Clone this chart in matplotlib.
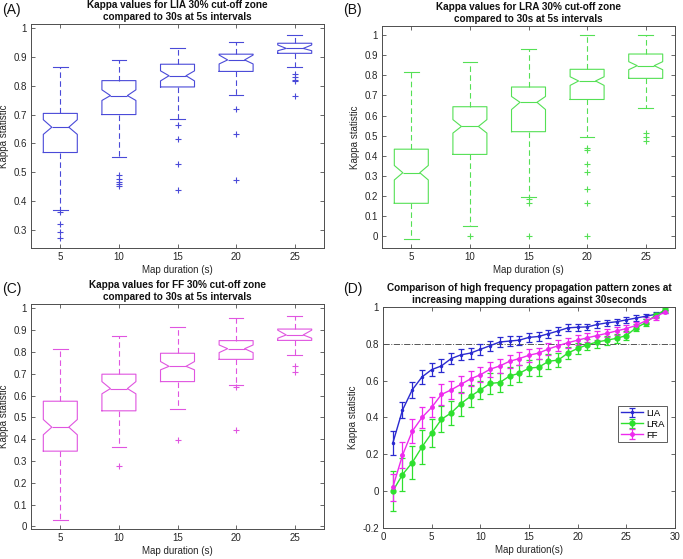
import matplotlib
matplotlib.use("Agg")
import matplotlib.pyplot as plt
import numpy as np

plt.rcParams['font.family'] = ['Liberation Sans', 'DejaVu Sans']

# etiquetas comunes
durations = [5, 10, 15, 20, 25]

# (A) LIA - estadisticos de cada caja
lia_hi = [0.867, 0.890, 0.933, 0.951, 0.977]
lia_q3 = [0.704, 0.818, 0.875, 0.910, 0.948]
lia_med = [0.656, 0.766, 0.835, 0.890, 0.930]
lia_q1 = [0.568, 0.700, 0.796, 0.850, 0.913]
lia_lo = [0.367, 0.552, 0.685, 0.767, 0.867]
lia_nhi = [0.682, 0.786, 0.852, 0.907, 0.942]
lia_nlo = [0.631, 0.749, 0.817, 0.876, 0.922]
lia_out = [[0.362, 0.321, 0.293, 0.270],
           [0.490, 0.477, 0.464, 0.460, 0.452],
           [0.663, 0.616, 0.528, 0.439],
           [0.721, 0.633, 0.471],
           [0.842, 0.830, 0.820, 0.815, 0.763]]

# (B) LRA
lra_hi = [0.818, 0.868, 0.932, 1.000, 1.000]
lra_q3 = [0.433, 0.644, 0.742, 0.830, 0.906]
lra_med = [0.316, 0.546, 0.666, 0.772, 0.848]
lra_q1 = [0.164, 0.407, 0.520, 0.680, 0.785]
lra_lo = [-0.012, 0.053, 0.197, 0.493, 0.636]
lra_nhi = [0.352, 0.580, 0.695, 0.793, 0.868]
lra_nlo = [0.280, 0.513, 0.630, 0.750, 0.828]
lra_out = [[],
           [0.0],
           [0.184, 0.166, 0.0],
           [0.438, 0.427, 0.358, 0.321, 0.237, 0.168, 0.0],
           [0.515, 0.496, 0.476]]

# (C) FF
ff_hi = [0.813, 0.875, 0.913, 0.957, 0.965]
ff_q3 = [0.574, 0.698, 0.794, 0.852, 0.905]
ff_med = [0.455, 0.632, 0.734, 0.815, 0.878]
ff_q1 = [0.345, 0.530, 0.664, 0.766, 0.853]
ff_lo = [0.031, 0.365, 0.539, 0.649, 0.786]
ff_nhi = [0.490, 0.664, 0.756, 0.832, 0.900]
ff_nlo = [0.420, 0.608, 0.718, 0.797, 0.863]
ff_out = [[], [0.278], [0.394], [0.638, 0.444], [0.737, 0.710]]

# (D) curvas con barras de error
t = list(range(1, 30))
lia_mean = [0.26, 0.44, 0.55, 0.62, 0.66, 0.68, 0.72, 0.74, 0.75, 0.77,
            0.79, 0.81, 0.815, 0.82, 0.835, 0.84, 0.855, 0.87, 0.887, 0.89,
            0.892, 0.905, 0.914, 0.92, 0.93, 0.94, 0.95, 0.96, 0.975]
lia_err = [0.065, 0.045, 0.045, 0.04, 0.037, 0.035, 0.032, 0.03, 0.03, 0.028,
           0.028, 0.025, 0.025, 0.025, 0.023, 0.022, 0.022, 0.02, 0.018, 0.018,
           0.017, 0.017, 0.016, 0.016, 0.015, 0.015, 0.014, 0.012, 0.01]
lra_mean = [0.0, 0.09, 0.155, 0.24, 0.315, 0.39, 0.425, 0.475, 0.515, 0.55,
            0.585, 0.59, 0.625, 0.64, 0.668, 0.673, 0.705, 0.712, 0.75, 0.775,
            0.795, 0.81, 0.82, 0.83, 0.845, 0.887, 0.915, 0.955, 0.985]
lra_err = [0.11, 0.09, 0.09, 0.09, 0.075, 0.07, 0.065, 0.065, 0.06, 0.05,
           0.055, 0.05, 0.05, 0.045, 0.045, 0.045, 0.04, 0.04, 0.035, 0.03,
           0.03, 0.03, 0.025, 0.025, 0.025, 0.02, 0.02, 0.015, 0.01]
ff_mean = [0.02, 0.195, 0.325, 0.40, 0.455, 0.525, 0.55, 0.58, 0.61, 0.632,
           0.662, 0.68, 0.705, 0.72, 0.738, 0.75, 0.772, 0.79, 0.806, 0.82,
           0.833, 0.845, 0.857, 0.87, 0.883, 0.90, 0.925, 0.945, 0.975]
ff_err = [0.075, 0.07, 0.065, 0.055, 0.055, 0.055, 0.05, 0.045, 0.04, 0.04,
          0.04, 0.04, 0.035, 0.035, 0.035, 0.03, 0.03, 0.03, 0.028, 0.027,
          0.025, 0.025, 0.022, 0.02, 0.02, 0.02, 0.018, 0.015, 0.01]

AX_COL = '#4d4d4d'
TXT_COL = '#262626'
TICK_FS = 7
LAB_FS = 7
TIT_FS = 7.2


def estilo(ax):
    for s in ax.spines.values():
        s.set_color(AX_COL)
        s.set_linewidth(0.7)
    ax.tick_params(direction='in', top=True, right=True, length=3,
                   width=0.6, color=AX_COL, labelcolor=TXT_COL,
                   labelsize=TICK_FS, pad=3)


def cajas(ax, hi, q3, med, q1, lo, nhi, nlo, outs, color, titulo, ylim, yticks):
    stats = []
    for i in range(len(med)):
        stats.append(dict(med=med[i], q1=q1[i], q3=q3[i], whislo=lo[i],
                          whishi=hi[i], cilo=nlo[i], cihi=nhi[i],
                          fliers=outs[i]))
    pos = np.arange(1, len(med) + 1)
    ax.bxp(stats, positions=pos, widths=0.58, capwidths=0.25, shownotches=True,
           boxprops=dict(color=color, linewidth=0.8),
           medianprops=dict(color=color, linewidth=0.8),
           whiskerprops=dict(color=color, linewidth=0.8, linestyle=(0, (5, 3))),
           capprops=dict(color=color, linewidth=0.8),
           flierprops=dict(marker='+', markeredgecolor=color, markersize=5,
                           markeredgewidth=0.8, linestyle='none'))
    ax.set_xlim(0.5, len(med) + 0.5)
    ax.set_xticks(pos)
    ax.set_xticklabels([str(d) for d in durations])
    ax.set_ylim(*ylim)
    ax.set_yticks(yticks)
    ax.set_yticklabels(['%g' % v for v in yticks])
    ax.set_title(titulo, fontsize=TIT_FS, fontweight='bold', color='#111111',
                 pad=3, linespacing=1.2)
    ax.set_xlabel('Map duration (s)', fontsize=LAB_FS, color=TXT_COL, labelpad=2)
    ax.set_ylabel('Kappa statistic', fontsize=LAB_FS, color=TXT_COL, labelpad=3)
    estilo(ax)


fig = plt.figure(figsize=(6.83, 5.59), dpi=100)

axA = fig.add_axes([0.0454, 0.5564, 0.429, 0.4007])
cajas(axA, lia_hi, lia_q3, lia_med, lia_q1, lia_lo, lia_nhi, lia_nlo, lia_out,
      '#4a4ad8', 'Kappa values for LIA 30% cut-off zone\ncompared to 30s at 5s intervals',
      (0.236, 1.015), np.round(np.arange(0.3, 1.01, 0.1), 1))

axB = fig.add_axes([0.5593, 0.5564, 0.429, 0.397])
cajas(axB, lra_hi, lra_q3, lra_med, lra_q1, lra_lo, lra_nhi, lra_nlo, lra_out,
      '#55e055', 'Kappa values for LRA 30% cut-off zone\ncompared to 30s at 5s intervals',
      (-0.058, 1.045), np.round(np.arange(0, 1.01, 0.1), 1))

axC = fig.add_axes([0.0454, 0.0537, 0.429, 0.4025])
cajas(axC, ff_hi, ff_q3, ff_med, ff_q1, ff_lo, ff_nhi, ff_nlo, ff_out,
      '#e055e0', 'Kappa values for FF 30% cut-off zone\ncompared to 30s at 5s intervals',
      (-0.012, 1.02), np.round(np.arange(0, 1.01, 0.1), 1))

# Panel D
axD = fig.add_axes([0.5608, 0.0555, 0.4275, 0.3953])
axD.axhline(0.8, color='#555555', linewidth=0.7, linestyle='-.')
axD.errorbar(t, lia_mean, yerr=lia_err, color='#2a2ad0', linewidth=1.0,
             capsize=2.5, elinewidth=0.9, capthick=0.9, marker='.',
             markersize=3, label='LIA')
axD.errorbar(t, lra_mean, yerr=lra_err, color='#2ee02e', linewidth=1.0,
             capsize=2.5, elinewidth=0.9, capthick=0.9, marker='.',
             markersize=7, label='LRA')
axD.errorbar(t, ff_mean, yerr=ff_err, color='#ee2aee', linewidth=1.0,
             capsize=2.5, elinewidth=0.9, capthick=0.9, marker='.',
             markersize=5, label='FF')
axD.set_xlim(0, 30)
axD.set_ylim(-0.2, 1)
axD.set_xticks([0, 5, 10, 15, 20, 25, 30])
axD.set_yticks([-0.2, 0, 0.2, 0.4, 0.6, 0.8, 1])
axD.set_yticklabels(['-0.2', '0', '0.2', '0.4', '0.6', '0.8', '1'])
axD.set_title('Comparison of high frequency propagation pattern zones at\n'
              'increasing mapping durations against 30seconds',
              fontsize=TIT_FS, fontweight='bold', color='#111111', pad=3,
              linespacing=1.2)
axD.set_xlabel('Map duration(s)', fontsize=LAB_FS, color=TXT_COL, labelpad=2)
axD.set_ylabel('Kappa statistic', fontsize=LAB_FS, color=TXT_COL, labelpad=3)
estilo(axD)
leg = axD.legend(loc='center right', bbox_to_anchor=(0.99, 0.47), fontsize=6.8,
                 frameon=True, fancybox=False, edgecolor='#333333',
                 handlelength=2.4, borderpad=0.3, labelspacing=0.2,
                 handletextpad=0.3)
leg.get_frame().set_linewidth(0.7)

# etiquetas de panel
for txt, x, y in [('(A)', 0.003, 0.995), ('(B)', 0.502, 0.995),
                  ('(C)', 0.003, 0.495), ('(D)', 0.502, 0.495)]:
    fig.text(x, y, txt, fontsize=10, color='#111111', va='top', ha='left')

fig.savefig('out.png', dpi=100)
